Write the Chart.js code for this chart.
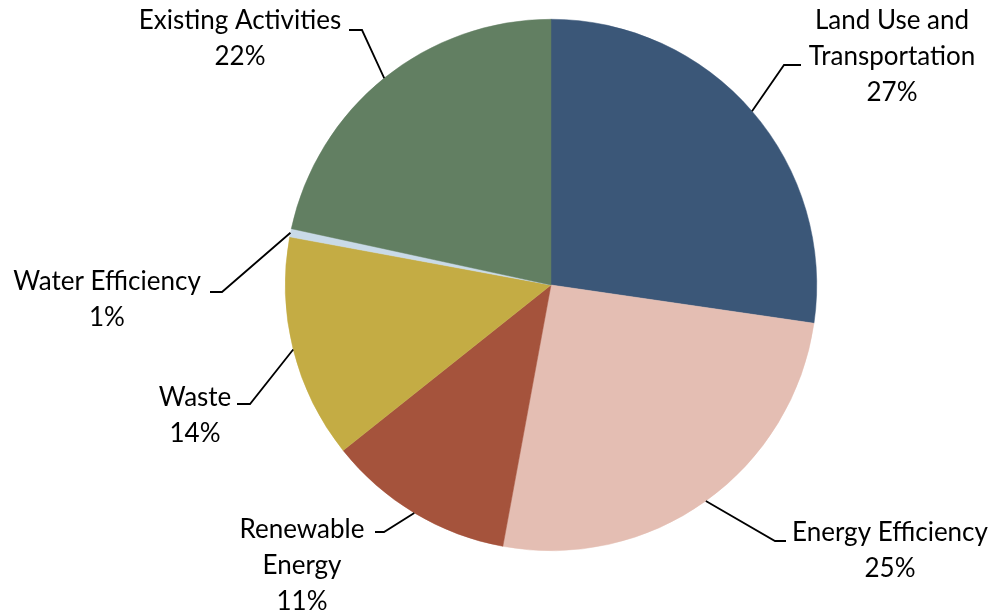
<!DOCTYPE html>
<html>
<head>
<meta charset="utf-8">
<script src="https://cdn.jsdelivr.net/npm/chart.js@4"></script>
<style>
  html, body { margin: 0; padding: 0; background: #fff; }
  #wrap { width: 996px; height: 615px; }
</style>
</head>
<body>
<div id="wrap"><canvas id="pieChart" width="996" height="615"></canvas></div>
<script>
// slice data, clockwise from 12 o'clock
const categories = ['Land Use and Transportation', 'Energy Efficiency', 'Renewable Energy', 'Waste', 'Water Efficiency', 'Existing Activities'];
const shares = [27.3, 25.6, 11.4, 13.6, 0.5, 21.6];
const pctLabels = ['27%', '25%', '11%', '14%', '1%', '22%'];
const labelLines = [
    ['Land Use and', 'Transportation'],
    ['Energy Efficiency'],
    ['Renewable', 'Energy'],
    ['Waste'],
    ['Water Efficiency'],
    ['Existing Activities']
];
const colors = ['#3b5778', '#e4beb3', '#a5533c', '#c4ac44', '#c9dae8', '#627f62'];

// label placement: text centre x, first line y, elbow point, end of horizontal tick
const labelLayout = [
    { x: 892, y: 21,  elbow: [784, 65],  end: [801, 65] },
    { x: 890, y: 533, elbow: [775, 541], end: [786, 541] },
    { x: 302, y: 530, elbow: [384, 532], end: [375, 532] },
    { x: 195, y: 398, elbow: [250, 404], end: [237, 404] },
    { x: 107, y: 282, elbow: [222, 292], end: [210, 292] },
    { x: 240, y: 21,  elbow: [362, 30],  end: [349, 30] }
];

const leaderLabels = {
    id: 'leaderLabels',
    afterDraw(chart) {
        const ctx = chart.ctx;
        const arcs = chart.getDatasetMeta(0).data;
        ctx.save();
        ctx.strokeStyle = '#000';
        ctx.lineWidth = 1.8;
        ctx.fillStyle = '#000';
        ctx.font = '26px Lato';
        ctx.textAlign = 'center';
        ctx.textBaseline = 'middle';
        arcs.forEach(function (arc, i) {
            const mid = (arc.startAngle + arc.endAngle) / 2;
            const sx = arc.x + Math.cos(mid) * arc.outerRadius;
            const sy = arc.y + Math.sin(mid) * arc.outerRadius;
            const lay = labelLayout[i];
            ctx.beginPath();
            ctx.moveTo(sx, sy);
            ctx.lineTo(lay.elbow[0], lay.elbow[1]);
            ctx.lineTo(lay.end[0], lay.end[1]);
            ctx.stroke();
            const lines = labelLines[i].concat([pctLabels[i]]);
            lines.forEach(function (t, k) {
                ctx.fillText(t, lay.x, lay.y + k * 36);
            });
        });
        ctx.restore();
    }
};

const ctx = document.getElementById('pieChart').getContext('2d');

new Chart(ctx, {
    type: 'pie',
    data: {
        labels: categories,
        datasets: [{
            data: shares,
            backgroundColor: colors,
            borderColor: colors,
            borderWidth: 0.5
        }]
    },
    options: {
        responsive: false,
        animation: false,
        layout: {
            padding: { top: 19, bottom: 64, left: 285, right: 179 }
        },
        plugins: {
            legend: { display: false },
            tooltip: { enabled: false }
        }
    },
    plugins: [leaderLabels]
});
</script>
</body>
</html>
